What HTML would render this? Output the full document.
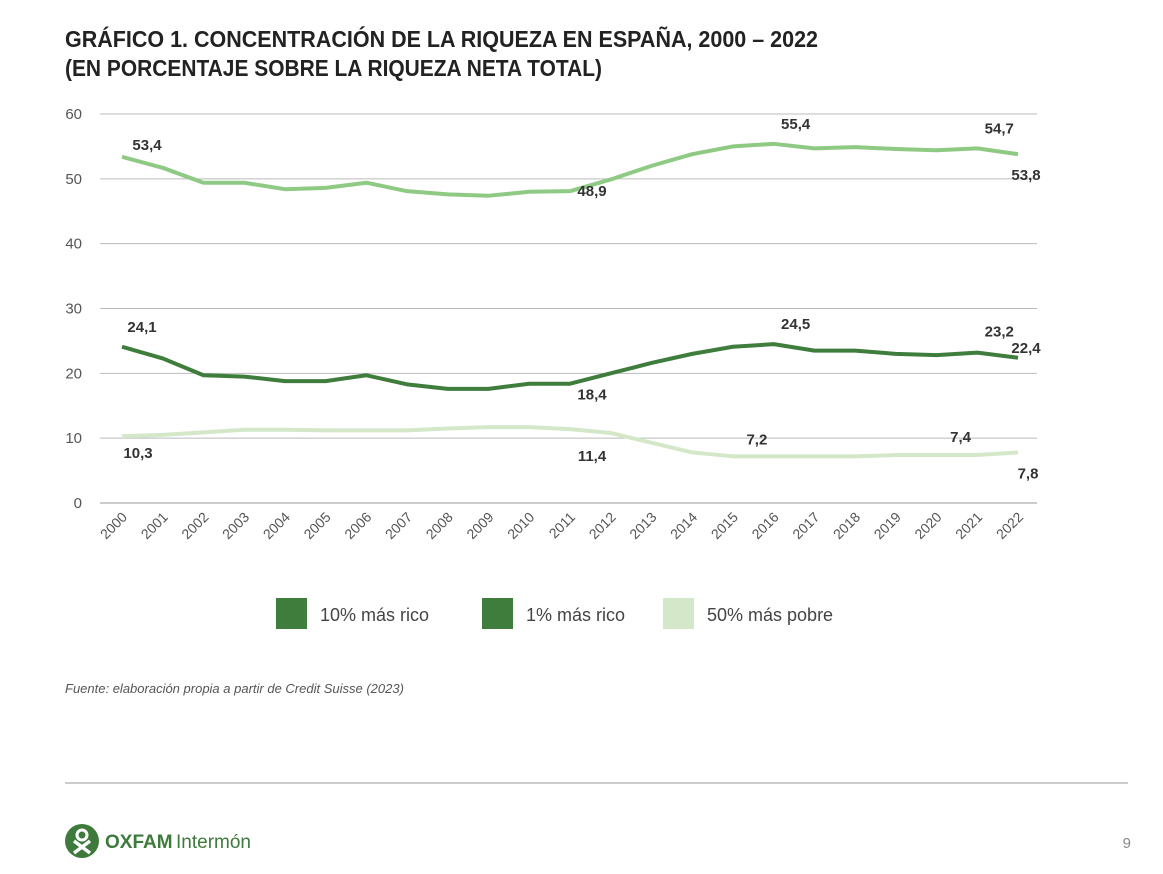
<!DOCTYPE html>
<html><head><meta charset="utf-8"><style>
body{margin:0;background:#fff;width:1163px;height:874px;overflow:hidden}
svg{display:block}
text{font-family:"Liberation Sans Narrow","Liberation Sans",sans-serif}
</style></head><body>
<svg id="c" width="1163" height="874">
<text x="65" y="47" font-size="23" font-weight="bold" fill="#222" textLength="753" lengthAdjust="spacingAndGlyphs">GRÁFICO 1. CONCENTRACIÓN DE LA RIQUEZA EN ESPAÑA, 2000 – 2022</text>
<text x="65" y="76" font-size="23" font-weight="bold" fill="#222" textLength="537" lengthAdjust="spacingAndGlyphs">(EN PORCENTAJE SOBRE LA RIQUEZA NETA TOTAL)</text>
<g id="grid"></g><g id="lines"></g><g id="labels"></g>
<g>
<rect x="276" y="598" width="31" height="31" fill="#3f7d3d"/>
<text x="320" y="621" font-size="18" fill="#444">10% más rico</text>
<rect x="482" y="598" width="31" height="31" fill="#3f7d3d"/>
<text x="526" y="621" font-size="18" fill="#444">1% más rico</text>
<rect x="663" y="598" width="31" height="31" fill="#d4e8c9"/>
<text x="707" y="621" font-size="18" fill="#444">50% más pobre</text>
</g>
<text x="65" y="693" font-size="13" font-style="italic" fill="#555">Fuente: elaboración propia a partir de Credit Suisse (2023)</text>
<line x1="65" y1="783" x2="1128" y2="783" stroke="#999" stroke-width="1"/>
<g>
<circle cx="82" cy="841" r="17" fill="#3e7a3b"/>
<circle cx="82" cy="835" r="5" fill="none" stroke="#fff" stroke-width="3"/>
<path d="M74 841 L90 853 M90 841 L74 853" stroke="#fff" stroke-width="3.5"/>
<text x="105" y="848" font-size="19" font-weight="bold" fill="#3e7a3b">OXFAM</text>
<text x="176" y="848" font-size="19" fill="#3e7a3b">Intermón</text>
</g>
<text x="1131" y="848" font-size="15" fill="#888" text-anchor="end">9</text>
</svg>
<script>
const years=[2000,2001,2002,2003,2004,2005,2006,2007,2008,2009,2010,2011,2012,2013,2014,2015,2016,2017,2018,2019,2020,2021,2022];
const top10=[53.4,51.7,49.4,49.4,48.4,48.6,49.4,48.1,47.6,47.4,48.0,48.1,49.9,52.0,53.8,55.0,55.4,54.7,54.9,54.6,54.4,54.7,53.8];
const top1=[24.1,22.3,19.7,19.5,18.8,18.8,19.7,18.3,17.6,17.6,18.4,18.4,20.0,21.6,23.0,24.1,24.5,23.5,23.5,23.0,22.8,23.2,22.4];
const bottom50=[10.3,10.5,10.9,11.3,11.3,11.2,11.2,11.2,11.5,11.7,11.7,11.4,10.8,9.3,7.8,7.2,7.2,7.2,7.2,7.4,7.4,7.4,7.8];
const yTicks=[0,10,20,30,40,50,60];
const top10Labels=[[0,'53,4'],[11,'48,9'],[16,'55,4'],[21,'54,7'],[22,'53,8']];
const top1Labels=[[0,'24,1'],[11,'18,4'],[16,'24,5'],[21,'23,2'],[22,'22,4']];
const bottom50Labels=[[0,'10,3'],[11,'11,4'],[15,'7,2'],[20,'7,4'],[22,'7,8']];
const NS='http://www.w3.org/2000/svg';
const X=i=>122+i*(1018-122)/(years.length-1);
const Y=v=>503-v*(503-114)/60;
function mk(tag,attrs,parent){const e=document.createElementNS(NS,tag);for(const k in attrs)e.setAttribute(k,attrs[k]);document.getElementById(parent).appendChild(e);return e;}
yTicks.forEach(t=>{
 const l=mk('line',{x1:100,x2:1037,y1:Y(t),y2:Y(t),stroke:t===0?'#999':'#bbb','stroke-width':1},'grid');
 
 
 const tx=mk('text',{x:82,y:Y(t)+5,'font-size':15,fill:'#555','text-anchor':'end'},'grid');
 tx.textContent=t;
 
 
});
years.forEach((yr,i)=>{
 const tx=mk('text',{x:X(i)+6,y:518,'font-size':14,fill:'#555','text-anchor':'end',transform:`rotate(-45 ${X(i)+6} 518)`},'grid');
 tx.textContent=yr;
 
 
});
function series(data,color,name){
 const p=mk('polyline',{points:data.map((v,i)=>X(i)+','+Y(v)).join(' '),fill:'none',stroke:color,'stroke-width':4,'stroke-linejoin':'round'},'lines');
 
 
}
series(bottom50,'#d4e8c9','line-bottom50');
series(top10,'#8fca84','line-top10');
series(top1,'#3f7d3d','line-top1');
function labels(data,list,offs,name){
 list.forEach(([i,s],k)=>{
  const o=offs[k];
  const t=mk('text',{x:X(i)+o[0],y:Y(data[i])+o[1],'font-size':15,'font-weight':'bold',fill:'#333','text-anchor':'middle'},'labels');
  t.textContent=s;
  
  
 });
}
labels(top10,top10Labels,[[25,-7],[22,5],[22,-15],[22,-15],[8,26]],'top10');
labels(top1,top1Labels,[[20,-15],[22,16],[22,-15],[22,-16],[8,-5]],'top1');
labels(bottom50,bottom50Labels,[[16,22],[22,32],[24,-12],[24,-13],[10,26]],'bottom50');
</script>
</body></html>
